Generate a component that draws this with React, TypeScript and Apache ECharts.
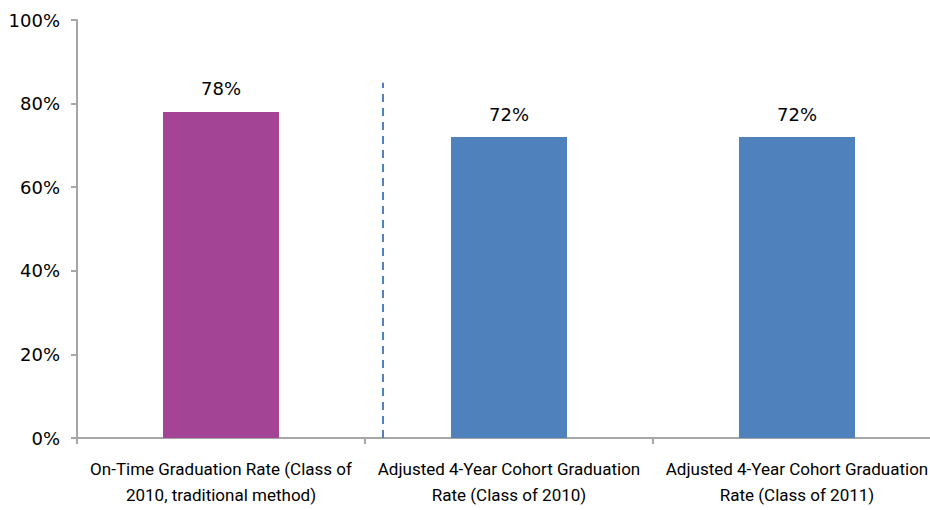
import React, { useEffect, useRef } from "react";
import * as echarts from "echarts";

const categories = [
  "On-Time Graduation Rate (Class of\n2010, traditional method)",
  "Adjusted 4-Year Cohort Graduation\nRate (Class of 2010)",
  "Adjusted 4-Year Cohort Graduation\nRate (Class of 2011)",
];
const values = [78, 72, 72];
const barColors = ["#A34594", "#4F81BD", "#4F81BD"];
const dividerX = [1.0625, 1.0625];
const dividerY = [0, 85];

export default function App() {
  const ref = useRef<HTMLDivElement>(null);
  useEffect(() => {
    const chart = echarts.init(ref.current!, null, { renderer: "svg" });
    chart.setOption({
      animation: false,
      grid: { left: 77, top: 20, bottom: 72, width: 864, outerBoundsMode: "none", containLabel: false },
      xAxis: [
        {
          type: "category",
          data: categories,
          axisLine: { lineStyle: { color: "#A6A6A6", width: 2 } },
          axisTick: { show: true, length: 6, lineStyle: { color: "#A6A6A6", width: 2 } },
          axisLabel: {
            color: "#000",
            fontSize: 17,
            lineHeight: 26,
            margin: 18,
            fontFamily: "Roboto, sans-serif",
            interval: 0,
          },
        },
        { type: "value", min: 0, max: 3, show: false },
      ],
      yAxis: {
        type: "value",
        min: 0,
        max: 100,
        interval: 20,
        axisLine: { show: true, lineStyle: { color: "#A6A6A6", width: 2 } },
        axisTick: { show: true, length: 6, inside: false, lineStyle: { color: "#A6A6A6", width: 2 } },
        splitLine: { show: false },
        axisLabel: {
          formatter: "{value}%",
          color: "#000",
          fontSize: 18,
          margin: 17,
          fontFamily: "'DejaVu Sans', sans-serif",
        },
      },
      series: [
        {
          type: "bar",
          xAxisIndex: 0,
          barWidth: 116,
          data: values.map((v, i) => ({ value: v, itemStyle: { color: barColors[i] } })),
          label: {
            show: true,
            position: "top",
            distance: 14,
            formatter: "{c}%",
            color: "#000",
            fontSize: 18,
            fontFamily: "'DejaVu Sans', sans-serif",
          },
        },
        {
          type: "line",
          xAxisIndex: 1,
          data: dividerX.map((x, i) => [x, dividerY[i]]),
          symbol: "none",
          lineStyle: { color: "#4F81BD", width: 2, type: [8, 6] },
          silent: true,
        },
      ],
    });
    return () => chart.dispose();
  }, []);
  return <div ref={ref} style={{ width: 930, height: 510, position: "absolute", left: 0, top: 0 }} />;
}
